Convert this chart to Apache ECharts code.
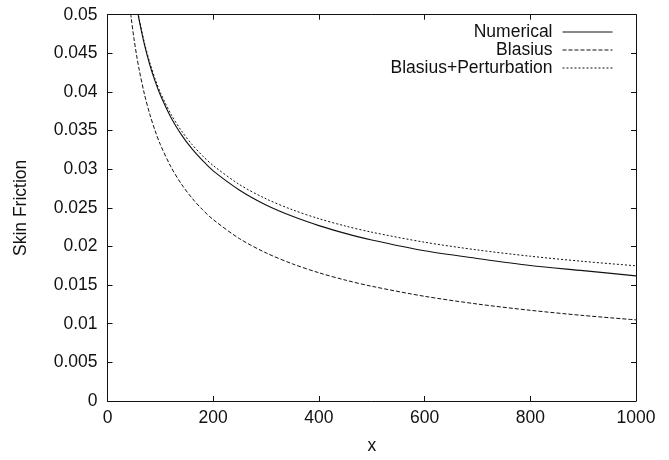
<!DOCTYPE html>
<html>
<head>
<meta charset="utf-8">
<script src="https://cdn.jsdelivr.net/npm/echarts@6/dist/echarts.min.js"></script>
<style>
  html, body { margin: 0; padding: 0; background: #fff; }
  #chart { width: 669px; height: 460px; }
</style>
</head>
<body>
<div id="chart"></div>
<script>
// values
const xBlasius = [40, 45, 50, 55, 60, 70, 80, 90, 100, 120, 140, 160, 180, 200, 250, 300, 350, 400, 450, 500, 600, 700, 800, 900, 1000];
const blasius = [0.05249, 0.04949, 0.04695, 0.04477, 0.04286, 0.03968, 0.03712, 0.03500, 0.03320, 0.03031, 0.02806, 0.02625, 0.02475, 0.02348, 0.02100, 0.01917, 0.01775, 0.01660, 0.01565, 0.01485, 0.01355, 0.01255, 0.01174, 0.01107, 0.01050];

const xNum = [50, 55, 60, 70, 80, 90, 100, 120, 140, 160, 180, 200, 250, 300, 350, 400, 450, 500, 600, 700, 800, 900, 1000];
const numerical = [0.05335, 0.05117, 0.04926, 0.04608, 0.04352, 0.04140, 0.03960, 0.03670, 0.03445, 0.03263, 0.03112, 0.02978, 0.02728, 0.02537, 0.02390, 0.02270, 0.02170, 0.02085, 0.01945, 0.01845, 0.01754, 0.01687, 0.01620];
const perturbation = [0.05345, 0.05132, 0.04946, 0.04633, 0.04380, 0.04170, 0.03992, 0.03713, 0.03496, 0.03320, 0.03173, 0.03048, 0.02800, 0.02617, 0.02475, 0.02360, 0.02265, 0.02185, 0.02055, 0.01955, 0.01874, 0.01807, 0.01750];

const seriesNames = ['Numerical', 'Blasius', 'Blasius+Perturbation'];

const pairs = (xs, ys) => xs.map((x, i) => [x, ys[i]]);

const font = 'Liberation Sans, Arial, Helvetica, sans-serif';
const ink = '#111';
const fontSize = 17.5;

const chart = echarts.init(document.getElementById('chart'));

const frameAxis = (extra) => Object.assign({
  type: 'value',
  axisLine: { show: true, onZero: false, lineStyle: { color: ink, width: 1 } },
  axisTick: { show: true, inside: true, length: 5, lineStyle: { color: ink } },
  splitLine: { show: false },
}, extra);

const lineSeries = (name, data, type, width) => ({
  name,
  type: 'line',
  data,
  symbol: 'none',
  smooth: 0.3,
  clip: true,
  lineStyle: { color: ink, width, type },
  itemStyle: { color: ink },
});

chart.setOption({
  animation: false,
  textStyle: { fontFamily: font },
  grid: { left: 107.5, right: 33, top: 14.7, bottom: 58.3 },
  legend: {
    orient: 'vertical',
    right: 51,
    top: 18,
    align: 'right',
    itemWidth: 50,
    itemHeight: 4,
    itemGap: 0,
    data: seriesNames,
    itemStyle: { opacity: 0 },
    lineStyle: { width: 1, color: ink },
    textStyle: { fontFamily: font, fontSize: fontSize, color: ink, lineHeight: 14, padding: [0, 5, 0, 0] },
  },
  xAxis: [
    frameAxis({
      min: 0, max: 1000, interval: 200,
      position: 'bottom',
      name: 'x',
      nameLocation: 'middle',
      nameGap: 36,
      nameTextStyle: { fontFamily: font, fontSize: fontSize, color: ink },
      axisLabel: { color: ink, fontFamily: font, fontSize: fontSize, margin: 8, formatter: (v) => String(v) },
    }),
    frameAxis({
      min: 0, max: 1000, interval: 200,
      position: 'top',
      axisLabel: { show: false },
    }),
  ],
  yAxis: [
    frameAxis({
      min: 0, max: 0.05, interval: 0.005,
      position: 'left',
      name: 'Skin Friction',
      nameLocation: 'middle',
      nameGap: 77,
      nameTextStyle: { fontFamily: font, fontSize: fontSize, color: ink },
      axisLabel: { color: ink, fontFamily: font, fontSize: fontSize, margin: 10, formatter: (v) => String(v) },
    }),
    frameAxis({
      min: 0, max: 0.05, interval: 0.005,
      position: 'right',
      axisLabel: { show: false },
    }),
  ],
  series: [
    lineSeries(seriesNames[0], pairs(xNum, numerical), 'solid', 1.1),
    lineSeries(seriesNames[1], pairs(xBlasius, blasius), [4, 2], 1),
    lineSeries(seriesNames[2], pairs(xNum, perturbation), [2, 2], 1),
  ],
});
</script>
</body>
</html>
